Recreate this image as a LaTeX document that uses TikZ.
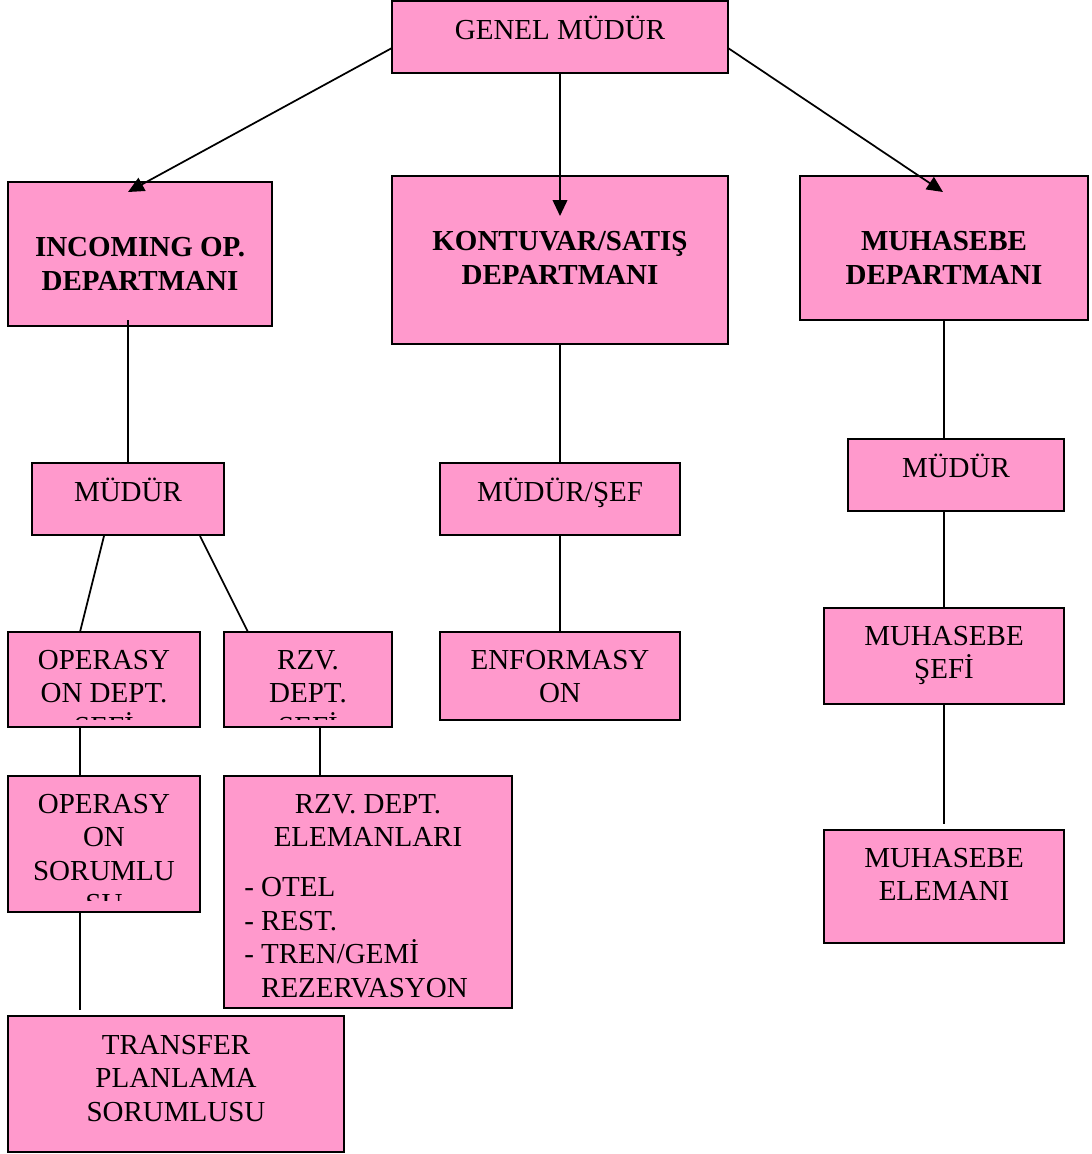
\documentclass[tikz,border=0pt]{standalone}
\usepackage{fontspec}
\setmainfont{Liberation Serif}
\usetikzlibrary{calc,arrows.meta}
\definecolor{pinkfill}{HTML}{FF99CC}
\tikzset{
  box/.style={draw=black, fill=pinkfill, line width=1.3pt, inner sep=0pt, outer sep=0pt, anchor=north west},
  txt/.style={font=\fontsize{21.75}{25.1}\selectfont, align=center, inner sep=0pt, anchor=base},
  btxt/.style={txt, font=\fontsize{21.75}{25.1}\selectfont\bfseries},
  link/.style={draw=black, line width=1.3pt},
  arr/.style={link, -{Triangle[length=12pt,width=11pt]}}
}
\newcommand\bx[5]{\node[box, minimum width={(#4-#2)*0.75pt}, minimum height={(#5-#3)*0.75pt}] (#1) at (#2,#3) {};}
\begin{document}
\begin{tikzpicture}[x=0.75pt,y=-0.75pt]
\useasboundingbox (0,0) rectangle (1092,1154);
% boxes
\bx{gm}{392}{1}{728}{73}
\bx{inc}{8}{182}{272}{326}
\bx{kon}{392}{176}{728}{344}
\bx{muh}{800}{176}{1088}{320}
\bx{mudl}{32}{463}{224}{535}
\bx{mudc}{440}{463}{680}{535}
\bx{mudr}{848}{439}{1064}{511}
\bx{ops}{8}{632}{200}{727}
\bx{rzs}{224}{632}{392}{727}
\bx{enf}{440}{632}{680}{720}
\bx{mss}{824}{608}{1064}{704}
\bx{osr}{8}{776}{200}{912}
\bx{rze}{224}{776}{512}{1008}
\bx{mel}{824}{830}{1064}{943}
\bx{trf}{8}{1016}{344}{1152}
% texts (base anchor = baseline of the last line)
\node[txt] (tgm) at (560,39) {GENEL MÜDÜR};
\node[btxt] (tinc) at (140,290) {INCOMING OP.\\DEPARTMANI};
\node[btxt] (tkon) at (560,284) {KONTUVAR/SATIŞ\\DEPARTMANI};
\node[btxt] (tmuh) at (944,284) {MUHASEBE\\DEPARTMANI};
\node[txt] (tmudl) at (128,501) {MÜDÜR};
\node[txt] (tmudc) at (560,501) {MÜDÜR/ŞEF};
\node[txt] (tmudr) at (956,477) {MÜDÜR};
\begin{scope}
  \clip (ops.north west) rectangle (200,719);
  \node[txt] (tops) at (104,736) {OPERASY\\ON DEPT.\\ŞEFİ};
\end{scope}
\begin{scope}
  \clip (rzs.north west) rectangle (392,719);
  \node[txt] (trzs) at (308,736) {RZV.\\DEPT.\\ŞEFİ};
\end{scope}
\node[txt] (tenf) at (560,702.5) {ENFORMASY\\ON};
\node[txt] (tmss) at (944,678.5) {MUHASEBE\\ŞEFİ};
\begin{scope}
  \clip (osr.north west) rectangle (200,900);
  \node[txt] (tosr) at (104,913.5) {OPERASY\\ON\\SORUMLU\\SU};
\end{scope}
\node[txt] (trze) at (368,846.5) {RZV. DEPT.\\ELEMANLARI};
\node[txt, anchor=base west, align=left] (trzl) at (244,997) {- OTEL\\- REST.\\- TREN/GEMİ\\\hphantom{- }REZERVASYON};
\node[txt] (tmel) at (944,900.5) {MUHASEBE\\ELEMANI};
\node[txt] (ttrf) at (176,1121) {TRANSFER\\PLANLAMA\\SORUMLUSU};
% connector endpoints
\coordinate (gmL) at (392,48);
\coordinate (gmR) at (728,48);
\coordinate (tipL) at (128,192);
\coordinate (tipC) at (560,216);
\coordinate (tipR) at (943,192);
\coordinate (incB) at (128,320);
\coordinate (mudlT) at (128,463);
\coordinate (muhB) at (944,320);
\coordinate (mudrT) at (944,439);
\coordinate (mudrB) at (944,511);
\coordinate (mssT) at (944,608);
\coordinate (mudlB1) at (104,536);
\coordinate (mudlB2) at (200,536);
\coordinate (opsT) at (80,632);
\coordinate (rzsT) at (248,632);
\coordinate (opsB) at (80,727);
\coordinate (osrT) at (80,776);
\coordinate (rzsB) at (320,727);
\coordinate (rzeT) at (320,776);
\coordinate (osrB) at (80,912);
\coordinate (trfT) at (80,1010);
\coordinate (mssB) at (944,704);
\coordinate (melT) at (944,824);
% connectors
\draw[arr] (gmL) -- (tipL);
\draw[arr] (gm.south) -- (tipC);
\draw[arr] (gmR) -- (tipR);
\draw[link] (incB) -- (mudlT);
\draw[link] (kon.south) -- (mudc.north);
\draw[link] (muhB) -- (mudrT);
\draw[link] (mudlB1) -- (opsT);
\draw[link] (mudlB2) -- (rzsT);
\draw[link] (mudc.south) -- (enf.north);
\draw[link] (mudrB) -- (mssT);
\draw[link] (opsB) -- (osrT);
\draw[link] (rzsB) -- (rzeT);
\draw[link] (osrB) -- (trfT);
\draw[link] (mssB) -- (melT);
\end{tikzpicture}
\end{document}
